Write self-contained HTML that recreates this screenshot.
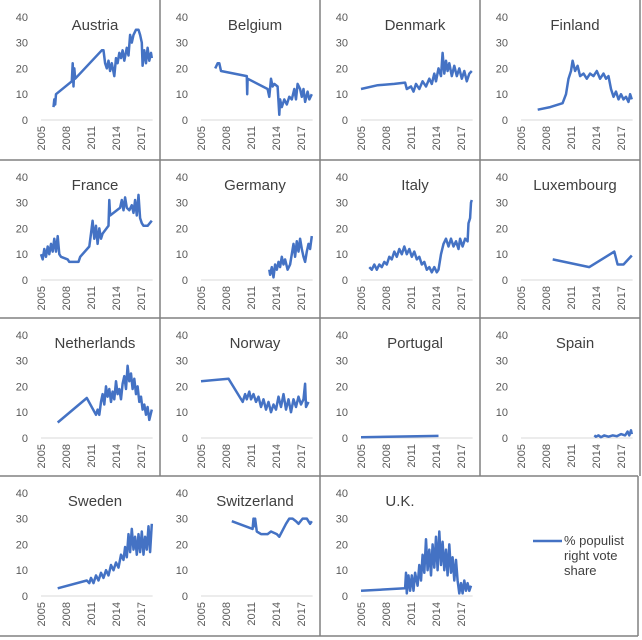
<!DOCTYPE html>
<html><head><meta charset="utf-8"><style>
html,body{margin:0;padding:0;background:#fff}
svg{display:block;font-family:"Liberation Sans",sans-serif}
</style></head><body>
<svg id="chart" width="642" height="640" viewBox="0 0 642 640"></svg>
<script>
const countries = ["Austria","Belgium","Denmark","Finland","France","Germany","Italy","Luxembourg","Netherlands","Norway","Portugal","Spain","Sweden","Switzerland","U.K."];
const yTicks = [0,10,20,30,40];
const xTicks = [2005,2008,2011,2014,2017];
const austria = [[2006.5,5],[2006.6,8],[2006.7,6],[2006.8,10],[2008.7,15],[2008.8,22],[2008.9,13],[2009,20],[2009.1,16],[2012.3,27],[2012.5,27],[2012.7,22],[2012.9,20],[2013.1,23],[2013.3,19],[2013.5,22],[2013.8,17],[2014,24],[2014.2,22],[2014.4,26],[2014.6,24],[2014.8,27],[2015,23],[2015.3,28],[2015.5,25],[2015.7,33],[2015.9,30],[2016.1,33],[2016.4,35],[2016.7,35],[2016.9,33],[2017.1,30],[2017.2,21],[2017.4,27],[2017.6,22],[2017.8,28],[2018,23],[2018.2,26],[2018.3,24]];
const belgium = [[2006.7,20],[2007,22],[2007.2,22],[2007.4,19],[2010.5,17],[2010.55,10],[2010.6,16],[2013,12],[2013.2,9],[2013.4,16],[2013.6,13],[2013.8,14],[2014.2,13],[2014.4,2],[2014.5,8],[2014.7,5],[2015,8],[2015.3,6],[2015.6,9],[2015.9,8],[2016.2,12],[2016.4,8],[2016.6,14],[2016.9,12],[2017.1,9],[2017.3,12],[2017.5,7],[2017.8,11],[2018,8],[2018.3,10]];
const denmark = [[2005,12],[2007,13.5],[2009,14],[2010.3,14.5],[2010.5,12],[2011,13],[2011.3,11],[2011.6,14],[2012,12],[2012.4,15],[2012.8,13],[2013.2,16],[2013.5,14],[2013.8,18],[2014,15],[2014.3,20],[2014.6,17],[2014.8,26],[2015,18],[2015.2,23],[2015.4,19],[2015.6,22],[2015.9,17],[2016.2,21],[2016.5,17],[2016.8,20],[2017.1,16],[2017.4,19],[2017.7,15],[2018,18],[2018.3,19]];
const finland = [[2007,4],[2008.5,5],[2010,6.5],[2010.4,10],[2010.7,16],[2011,19],[2011.2,23],[2011.5,19],[2011.8,21],[2012.1,17],[2012.5,18],[2012.9,16],[2013.3,18],[2013.7,17],[2014.1,19],[2014.5,16],[2014.9,18],[2015.2,16],[2015.5,17],[2015.8,12],[2016.1,9],[2016.4,11],[2016.7,8],[2017,10],[2017.3,8],[2017.6,9],[2017.9,7],[2018.1,10],[2018.3,8]];
const france = [[2005,10],[2005.2,8],[2005.4,12],[2005.6,9],[2005.8,13],[2006,10],[2006.2,14],[2006.4,11],[2006.6,16],[2006.8,11],[2007,17],[2007.2,10],[2007.4,9],[2008.2,8],[2008.4,7],[2009.5,7],[2009.7,9],[2010.8,13],[2011,18],[2011.2,23],[2011.4,16],[2011.6,21],[2011.8,14],[2012,20],[2012.2,16],[2012.4,18],[2013.1,21],[2013.2,31],[2013.3,25],[2014.5,28],[2014.7,31],[2014.9,27],[2015.1,32],[2015.3,28],[2015.6,27],[2015.9,29],[2016.1,26],[2016.3,31],[2016.5,25],[2016.7,33],[2016.9,24],[2017.1,22],[2017.3,21],[2017.8,21],[2018.3,23]];
const germany = [[2013.2,4],[2013.3,2],[2013.5,5],[2013.7,1],[2013.9,6],[2014.1,4],[2014.3,7],[2014.5,5],[2014.7,9],[2014.9,6],[2015.1,8],[2015.4,4],[2015.7,6],[2015.9,10],[2016.1,14],[2016.3,9],[2016.5,15],[2016.7,11],[2016.9,16],[2017.1,12],[2017.3,9],[2017.5,7],[2017.7,11],[2017.9,14],[2018.1,12],[2018.3,17]];
const italy = [[2006,5],[2006.3,4],[2006.6,6],[2006.9,4],[2007.2,6],[2007.5,5],[2007.8,7],[2008.1,6],[2008.4,9],[2008.7,8],[2009,11],[2009.3,9],[2009.6,12],[2009.9,10],[2010.2,13],[2010.5,10],[2010.8,12],[2011.1,9],[2011.4,11],[2011.7,8],[2012,9],[2012.3,6],[2012.6,7],[2012.9,4],[2013.2,5],[2013.5,3],[2013.8,5],[2014.1,3],[2014.3,4],[2014.6,10],[2014.9,14],[2015.2,16],[2015.5,13],[2015.8,16],[2016.1,13],[2016.4,15],[2016.7,12],[2016.9,16],[2017.2,13],[2017.5,16],[2017.8,15],[2017.9,22],[2018.1,24],[2018.2,30],[2018.3,31]];
const luxembourg = [[2008.8,8],[2013.2,5],[2016.2,11],[2016.6,6],[2017.3,6],[2018.3,9.5]];
const netherlands = [[2007,6],[2010.5,15.5],[2011.6,9],[2011.8,11],[2012,9],[2012.2,14],[2012.4,17],[2012.6,13],[2012.8,20],[2013,16],[2013.2,19],[2013.4,14],[2013.6,18],[2013.8,15],[2014,22],[2014.2,17],[2014.4,19],[2014.6,15],[2014.8,21],[2015,24],[2015.2,19],[2015.4,28],[2015.6,22],[2015.8,25],[2016,19],[2016.2,23],[2016.4,17],[2016.6,20],[2016.8,14],[2017,16],[2017.2,11],[2017.4,13],[2017.6,9],[2017.8,12],[2018,7],[2018.3,11]];
const norway = [[2005,22],[2008.3,23],[2010,14],[2010.3,17],[2010.5,15],[2010.8,18],[2011,15],[2011.3,17],[2011.6,14],[2011.9,16],[2012.2,12],[2012.5,15],[2012.8,11],[2013.1,14],[2013.4,10],[2013.7,13],[2014,11],[2014.3,16],[2014.6,12],[2014.9,17],[2015.2,11],[2015.5,15],[2015.8,10],[2016.1,15],[2016.4,12],[2016.7,16],[2017,13],[2017.3,15],[2017.5,21],[2017.6,12],[2017.9,14]];
const portugal = [[2005,0.3],[2014.3,0.8]];
const spain = [[2013.8,1],[2014,0.5],[2014.3,1],[2014.6,0.3],[2015,1],[2015.5,0.5],[2016,1],[2016.5,0.7],[2017,1.5],[2017.5,1],[2017.8,2.5],[2018,1],[2018.2,3],[2018.3,1.5]];
const sweden = [[2007,3],[2010.5,6],[2010.8,5],[2011,7],[2011.3,5],[2011.6,8],[2011.9,6],[2012.2,9],[2012.5,7],[2012.8,10],[2013.1,8],[2013.4,12],[2013.7,10],[2014,13],[2014.3,11],[2014.6,16],[2014.9,14],[2015.1,19],[2015.3,15],[2015.5,24],[2015.7,17],[2015.9,26],[2016.1,18],[2016.3,23],[2016.5,16],[2016.7,24],[2016.9,17],[2017.1,25],[2017.3,16],[2017.5,23],[2017.7,18],[2017.9,27],[2018.1,17],[2018.3,28]];
const switzerland = [[2008.7,29],[2011.2,26],[2011.3,30],[2011.4,27],[2011.5,30],[2011.7,25],[2012.2,24],[2013,24],[2013.4,25],[2014.1,24],[2014.4,23],[2015.2,28],[2015.6,30],[2016,30],[2016.4,29],[2016.7,28],[2017.2,30],[2017.7,30],[2018.1,28],[2018.3,29]];
const uk = [[2005,2],[2010.3,3],[2010.4,9],[2010.5,1],[2010.7,8],[2010.9,2],[2011.1,8],[2011.3,2],[2011.5,9],[2011.8,4],[2012,12],[2012.2,6],[2012.4,16],[2012.6,9],[2012.8,22],[2013,10],[2013.2,18],[2013.4,8],[2013.6,20],[2013.8,11],[2014,23],[2014.2,10],[2014.4,25],[2014.6,12],[2014.8,21],[2015,10],[2015.2,18],[2015.4,8],[2015.6,20],[2015.8,9],[2016,15],[2016.2,6],[2016.4,14],[2016.6,6],[2016.8,1],[2017,5],[2017.2,1],[2017.4,6],[2017.6,2],[2017.8,5],[2018,2],[2018.2,4]];
const series = [austria,belgium,denmark,finland,france,germany,italy,luxembourg,netherlands,norway,portugal,spain,sweden,switzerland,uk];

const NS="http://www.w3.org/2000/svg";
const svg=document.getElementById('chart');
const rowTops=[0,160,318,476];
function mk(tag,attrs,parent){const e=document.createElementNS(NS,tag);for(const k in attrs)e.setAttribute(k,attrs[k]);(parent||svg).appendChild(e);return e;}
function slug(s){return s.toLowerCase().replace(/[^a-z]+/g,'-').replace(/-$/,'');}

countries.forEach((name,i)=>{
  const cx=(i%4)*160, cy=rowTops[Math.floor(i/4)];
  const g=mk('g',{});
  
  
  const xs=y=>cx+41+(y-2005)*8.33;
  const ys=v=>cy+120-v*2.58;
  yTicks.forEach(t=>{
    const tx=mk('text',{x:cx+28,y:ys(t)+4,'text-anchor':'end','font-size':11,fill:'#595959'},g);
    tx.textContent=t;
    
    
  });
  const ax=mk('line',{x1:xs(2005),x2:xs(2018.4),y1:ys(0),y2:ys(0),stroke:'#d9d9d9','stroke-width':1},g);
  
  
  xTicks.forEach(t=>{
    const x=xs(t), y=cy+126;
    const tx=mk('text',{x:x,y:y,transform:`rotate(-90 ${x} ${y})`,'text-anchor':'end',dy:4,'font-size':11,fill:'#595959'},g);
    tx.textContent=t;
    
    
  });
  const tt=mk('text',{x:name==='U.K.'?cx+80:cx+95,y:cy+30,'text-anchor':'middle','font-size':15,fill:'#404040'},g);
  tt.textContent=name;
  
  
  const pts=series[i].map(p=>xs(p[0]).toFixed(1)+','+ys(p[1]).toFixed(1)).join(' ');
  const pl=mk('polyline',{points:pts,fill:'none',stroke:'#4472C4','stroke-width':2.5,'stroke-linejoin':'round'},g);
  
  
});

[[160,0,160,476],[320,0,320,636],[480,0,480,476],[0,160,640,160],[0,318,640,318],[0,476,638,476],[0,636,638,636],[638,476,638,636],[640,0,640,476]].forEach(l=>{
  const e=mk('line',{x1:l[0],y1:l[1],x2:l[2],y2:l[3],stroke:'#808080','stroke-width':1.5});
  
  
});

const lg=mk('g',{});


mk('line',{x1:533,x2:562,y1:541,y2:541,stroke:'#4472C4','stroke-width':2.5},lg);
['% populist','right vote','share'].forEach((s,k)=>{
  const t=mk('text',{x:564,y:545+k*15,'font-size':13,fill:'#404040'},lg);
  t.textContent=s;
});
</script>
</body></html>
